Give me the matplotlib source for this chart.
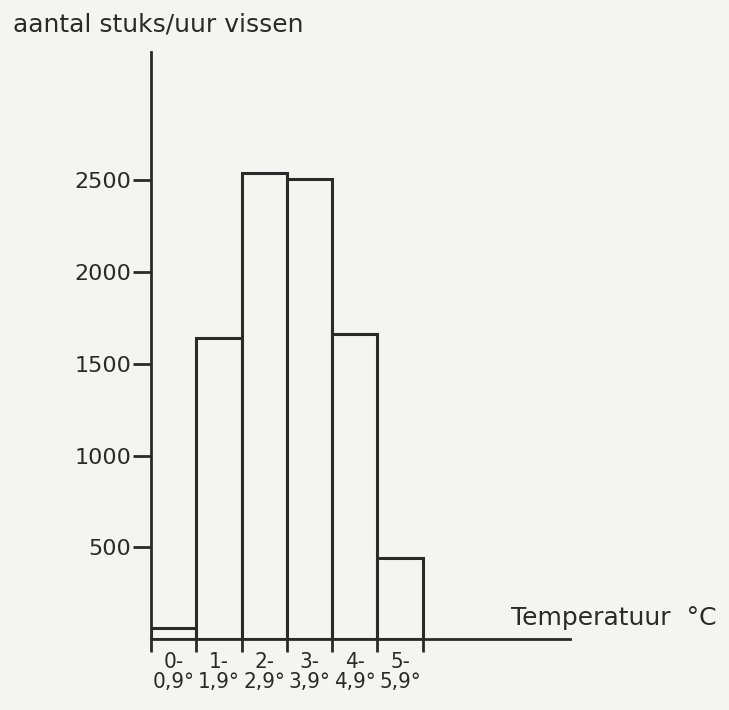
import matplotlib.pyplot as plt

# aantal stuks per uur per temperatuurklasse
klassen = ["0-\n0,9°", "1-\n1,9°", "2-\n2,9°", "3-\n3,9°", "4-\n4,9°", "5-\n5,9°"]
aantallen = [60, 1640, 2540, 2505, 1665, 440]
yticks = [500, 1000, 1500, 2000, 2500]

ink = "#2a2a2a"
paper = "#f4f4f2"

fig = plt.figure(figsize=(7.29, 7.10), dpi=100, facecolor=paper)
ax = fig.add_axes([151 / 729, 71 / 710, 419 / 729, 587 / 710])
ax.set_facecolor(paper)

pos = [i + 0.5 for i in range(len(aantallen))]
ax.bar(pos, aantallen, width=1.0, facecolor=paper, edgecolor=ink, linewidth=2.2)

ax.set_xlim(0, 9.25)
ax.set_ylim(0, 3200)
for s in ["top", "right"]:
    ax.spines[s].set_visible(False)
for s in ["left", "bottom"]:
    ax.spines[s].set_color(ink)
    ax.spines[s].set_linewidth(2.0)

ax.set_yticks(yticks)
ax.set_yticklabels([str(v) for v in yticks])
ax.tick_params(axis="y", direction="out", length=13, width=2, color=ink,
               labelsize=16, labelcolor=ink, pad=1)

# streepjes bij de klassegrenzen, labels in het midden
ax.set_xticks(range(len(aantallen) + 1))
ax.set_xticklabels([])
ax.tick_params(axis="x", which="major", direction="out", length=9, width=2, color=ink)
ax.set_xticks(pos, minor=True)
ax.set_xticklabels(klassen, minor=True, fontstretch="condensed")
ax.tick_params(axis="x", which="minor", length=0, labelsize=16, labelcolor=ink, pad=9)
for t in ax.get_xticklabels(minor=True):
    t.set_linespacing(1.05)

fig.text(13 / 729, 1 - 25 / 710, "aantal stuks/uur vissen", fontsize=18,
         color=ink, va="center", ha="left")
fig.text(511 / 729, 1 - 618 / 710, "Temperatuur  °C", fontsize=18,
         color=ink, va="center", ha="left")

fig.savefig("out.png", dpi=100, facecolor=paper)
